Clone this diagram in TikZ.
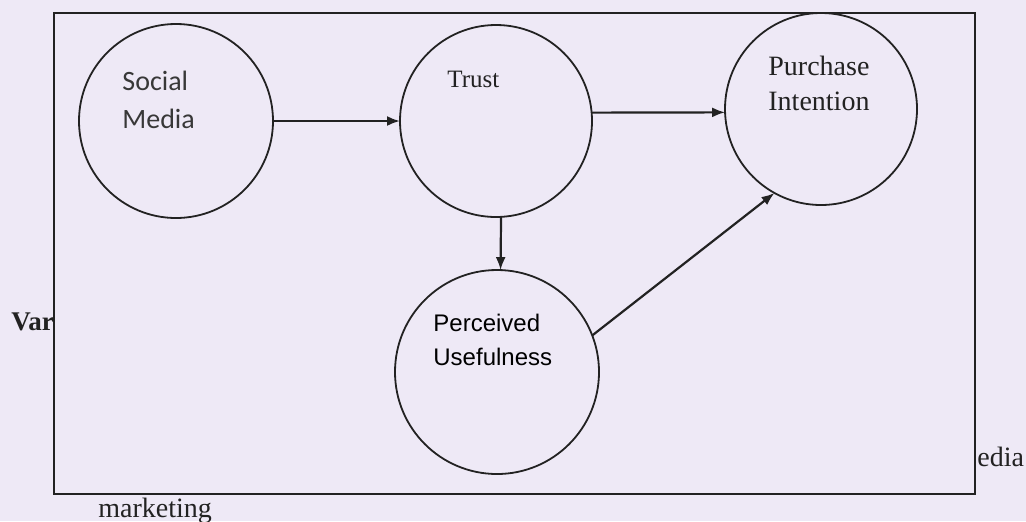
\documentclass[tikz,border=0pt]{standalone}
\usepackage{fontspec}
\setmainfont{Liberation Serif}
\newfontfamily\calibrifont{Carlito}
\newfontfamily\arialfont{Liberation Sans}
\usepackage{xcolor}
\usetikzlibrary{arrows.meta}
\definecolor{paper}{HTML}{EEE9F6}
\definecolor{ink}{HTML}{222222}
\tikzset{
  construct/.style={circle, draw=ink, line width=0.9pt, inner sep=0pt, outer sep=0pt},
  link/.style={draw=ink, line width=1.1pt, -{Latex[length=6.5pt, width=5pt]}}
}

\begin{document}
\begin{tikzpicture}[x=0.5pt, y=-0.5pt]
\fill[paper] (0,0) rectangle (1026,521);
\useasboundingbox (0,0) rectangle (1026,521);
% side texts cut by the frame
\node[font=\bfseries\fontsize{13.5pt}{16pt}\selectfont, text=ink, anchor=base west, inner sep=0pt]
  (vartxt) at (11,330) {Var};
\node[font=\fontsize{14pt}{17pt}\selectfont, text=ink, anchor=base west, inner sep=0pt]
  (mkttxt) at (98,517) {marketing};
\node[font=\fontsize{14pt}{17pt}\selectfont, text=ink, anchor=base west, inner sep=0pt]
  (ediatxt) at (977,466) {edia};
% frame
\draw[ink, line width=1.1pt] (54,13) rectangle (975,494);
% constructs
\node[construct, minimum size=97pt] (smedia) at (176,121) {};
\node[construct, minimum size=96pt] (trust) at (496,121) {};
\node[construct, minimum size=96pt] (purint) at (821,109) {};
\node[construct, minimum size=102pt] (perus) at (497,372) {};
% labels
\node[font=\calibrifont\fontsize{14pt}{19pt}\selectfont, text=ink!90, anchor=base west, align=left, inner sep=0pt]
  at (122,128) {Social\\Media};
\node[font=\fontsize{12.5pt}{15pt}\selectfont, text=ink, anchor=base west, inner sep=0pt]
  at (447,87) {Trust};
\node[font=\fontsize{14pt}{17.5pt}\selectfont, text=ink, anchor=base west, align=left, inner sep=0pt]
  at (768,110) {Purchase\\Intention};
\node[font=\arialfont\fontsize{12pt}{17pt}\selectfont, text=black, anchor=base west, align=left, inner sep=0pt]
  at (433,365) {Perceived\\Usefulness};
% paths
\draw[link] (smedia.east) -- (trust.west);
\draw[link] (trust.5) -- (purint.182);
\draw[link] (trust.-87) -- (perus.88);
\draw[link] (perus.21) -- (purint.241);
\end{tikzpicture}
\end{document}
